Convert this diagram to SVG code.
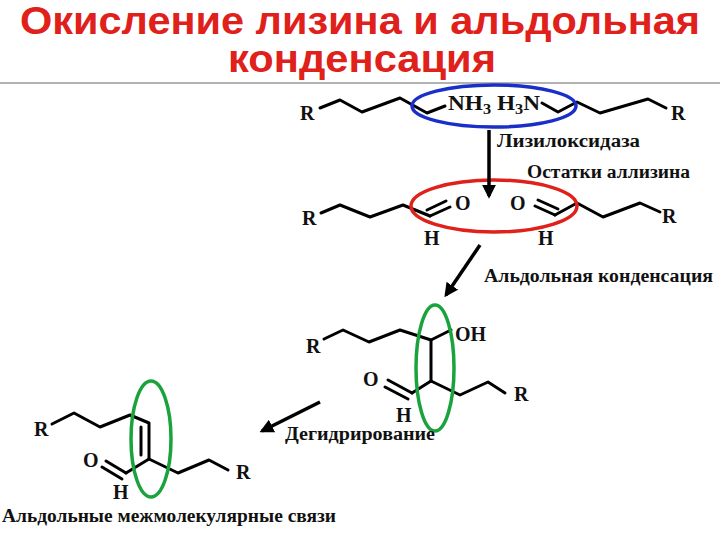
<svg xmlns="http://www.w3.org/2000/svg" width="720" height="540" viewBox="0 0 720 540">
<defs>
<style>
.b{fill:none;stroke:#000;stroke-width:3;stroke-linejoin:round;stroke-linecap:round}
.t{font-family:"Liberation Serif",serif;font-weight:bold;font-size:20px;fill:#111}
.l{font-family:"Liberation Serif",serif;font-weight:bold;font-size:18px;fill:#111}
.a{fill:none;stroke:#000;stroke-width:3.5}
</style>
<marker id="h" viewBox="0 0 10 10" refX="8" refY="5" markerWidth="4" markerHeight="4" orient="auto"><path d="M0,0L10,5L0,10z" fill="#000"/></marker>
</defs>
<rect width="720" height="540" fill="#fff"/>
<g id="title" font-family="Liberation Sans,sans-serif" font-weight="bold" font-size="38" fill="#e0201a" text-anchor="middle">
<text x="360" y="34" textLength="680" lengthAdjust="spacingAndGlyphs">Окисление лизина и альдольная</text>
<text x="362" y="72" textLength="268" lengthAdjust="spacingAndGlyphs">конденсация</text>
</g>
<line x1="0" y1="83" x2="720" y2="83" stroke="#999" stroke-width="1.5"/>
<g id="lysine">
<text class="t" x="300" y="120">R</text>
<polyline class="b" points="320,108 340,100 362,112 400,98 427,113 445,106"/>
<text class="t" x="448" y="110" textLength="92" lengthAdjust="spacingAndGlyphs">NH<tspan font-size="14" dy="4">3</tspan><tspan dy="-4"> H</tspan><tspan font-size="14" dy="4">3</tspan><tspan dy="-4">N</tspan></text>
<polyline class="b" points="542,103 558,112 577,102 600,113 648,99 666,108"/>
<text class="t" x="671" y="120">R</text>
<ellipse cx="494" cy="106" rx="82" ry="21" fill="none" stroke="#1a2fc8" stroke-width="3.5"/>
</g>
<g id="allysine">
<text class="t" x="302" y="225">R</text>
<polyline class="b" points="321,213 340,205 370,217 403,205 430,216"/>
<line class="b" x1="430" y1="216" x2="450" y2="207"/>
<line class="b" x1="427" y1="210" x2="446" y2="201"/>
<text class="t" x="455" y="210">O</text>
<text class="t" x="424" y="245">H</text>
<text class="t" x="510" y="210">O</text>
<line class="b" x1="535" y1="206" x2="555" y2="215"/>
<line class="b" x1="538" y1="200" x2="558" y2="209"/>
<polyline class="b" points="555,215 577,203 603,217 640,203 660,212"/>
<text class="t" x="662" y="223">R</text>
<text class="t" x="538" y="245">H</text>
<ellipse cx="494" cy="206" rx="83" ry="26" fill="none" stroke="#e0201a" stroke-width="3.5"/>
</g>
<g id="aldol">
<text class="t" x="306" y="353">R</text>
<polyline class="b" points="324,339 343,330 369,342 400,330 431,340 431,381"/>
<line class="b" x1="431" y1="340" x2="451" y2="330"/>
<text class="t" x="455" y="341">OH</text>
<line class="b" x1="431" y1="381" x2="412" y2="393"/>
<line class="b" x1="412" y1="393" x2="388" y2="380"/>
<line class="b" x1="408" y1="399" x2="385" y2="387"/>
<text class="t" x="363" y="386">O</text>
<text class="t" x="396" y="422">H</text>
<polyline class="b" points="431,381 460,395 488,382 505,393"/>
<text class="t" x="514" y="401">R</text>
<ellipse cx="435" cy="368" rx="19" ry="63" fill="none" stroke="#1aa33c" stroke-width="3.5"/>
</g>
<g id="product">
<text class="t" x="34" y="436">R</text>
<polyline class="b" points="52,424 74,413 100,427 130,415 149,423 149,459"/>
<line class="b" x1="141" y1="427" x2="141" y2="455"/>
<line class="b" x1="149" y1="459" x2="126" y2="473"/>
<line class="b" x1="126" y1="473" x2="106" y2="461"/>
<line class="b" x1="122" y1="479" x2="102" y2="467"/>
<text class="t" x="83" y="467">O</text>
<text class="t" x="113" y="499">H</text>
<polyline class="b" points="149,459 178,473 209,460 228,470"/>
<text class="t" x="236" y="479">R</text>
<ellipse cx="151" cy="439" rx="20" ry="58" fill="none" stroke="#1aa33c" stroke-width="3.5"/>
</g>
<g id="connectors">
<line class="a" x1="489" y1="130" x2="489" y2="196" marker-end="url(#h)"/>
<line class="a" x1="480" y1="245" x2="446" y2="295" marker-end="url(#h)"/>
<line class="a" x1="320" y1="402" x2="262" y2="431" marker-end="url(#h)"/>
</g>
<g id="labels">
<text class="l" x="497" y="147" textLength="143" lengthAdjust="spacingAndGlyphs">Лизилоксидаза</text>
<text class="l" x="527" y="178" textLength="163" lengthAdjust="spacingAndGlyphs">Остатки аллизина</text>
<text class="l" x="484" y="282" textLength="229" lengthAdjust="spacingAndGlyphs">Альдольная конденсация</text>
<text class="l" x="285" y="440" textLength="150" lengthAdjust="spacingAndGlyphs">Дегидрирование</text>
<text class="l" x="2" y="522" textLength="334" lengthAdjust="spacingAndGlyphs">Альдольные межмолекулярные связи</text>
</g>
</svg>
